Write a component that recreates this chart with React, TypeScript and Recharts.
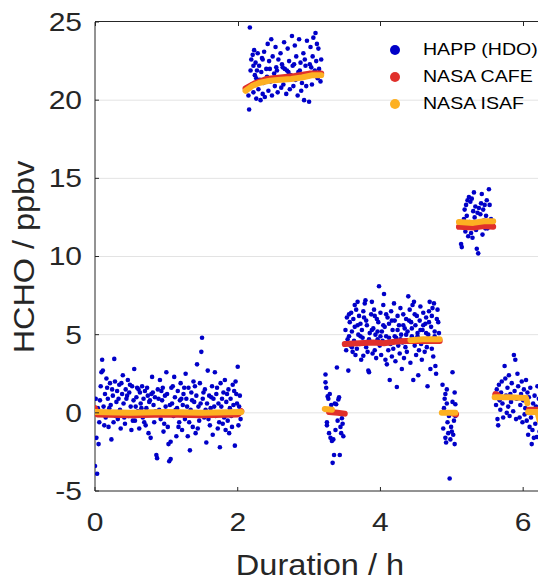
import React from "react";
import { ScatterChart, Scatter, XAxis, YAxis, CartesianGrid } from "recharts";

const BLUE = "#0000c8";
const RED = "#e0302b";
const ORANGE = "#fdb022";
const AXIS = "#262626";
const FONT = '"Liberation Sans", Arial, Helvetica, sans-serif';

const xTicks = [0, 2, 4, 6];
const yTicks = [-5, 0, 5, 10, 15, 20, 25];
const gridValues = [0, 5, 10, 15, 20];
const X_DOMAIN: [number, number] = [0, 6.32];
const Y_DOMAIN: [number, number] = [-5, 25];

// chart box geometry (same numbers the chart margins / axis sizes produce)
const W = 538;
const H = 573;
const PLOT_L = 87;
const PLOT_T = 14;
const PLOT_W = W - PLOT_L;
const PLOT_H = H - 90 - PLOT_T;

type Pt = [number, number];

// HAPP (HDO) retrievals, one list per leg of the flight
const happLeg1: Pt[] = [
  [0.0, -3.4], [0.02, -1.6], [0.03, -3.9], [0.04, 0.3], [0.05, -2.0], [0.06, -0.6], [0.07, 0.8], [0.09, 2.6],
  [0.1, 3.4], [0.11, 2.7], [0.12, 0.4], [0.14, 1.2], [0.15, -0.3], [0.17, 1.6], [0.18, 0.9], [0.19, -0.9],
  [0.21, 1.9], [0.22, 0.5], [0.23, -1.7], [0.25, 1.1], [0.26, -0.6], [0.27, 3.45], [0.28, 2.0], [0.3, 0.7],
  [0.31, 1.4], [0.32, -0.4], [0.34, 1.8], [0.35, 0.2], [0.36, -1.0], [0.38, 1.2], [0.39, 2.4], [0.4, 0.6],
  [0.42, -0.7], [0.43, 1.5], [0.44, 0.9], [0.46, 2.1], [0.47, -0.2], [0.48, 1.3], [0.5, 0.4], [0.51, -1.1],
  [0.52, 1.7], [0.54, 0.8], [0.55, 2.8], [0.56, -0.5], [0.58, 1.0], [0.59, 1.6], [0.6, 0.1], [0.62, -1.0],
  [0.63, 1.3], [0.64, 0.6], [0.66, 1.7], [0.67, -0.3], [0.68, 0.9], [0.7, 1.4], [0.71, -0.8], [0.72, 0.3],
  [0.74, 1.1], [0.75, -1.3], [0.76, 0.7], [0.78, -1.6], [0.79, 1.2], [0.8, 2.3], [0.82, 0.5], [0.83, -0.6],
  [0.84, 1.0], [0.86, -2.7], [0.87, -2.9], [0.88, 1.5], [0.9, 0.2], [0.91, 2.1], [0.92, -0.4], [0.94, 0.8],
  [0.95, 1.6], [0.96, -1.2], [0.98, 1.1], [0.99, 0.4], [1.0, 2.6], [1.02, -0.9], [1.03, -2.0], [1.04, -3.1],
  [1.06, -2.95], [1.06, -1.85], [1.07, 1.6], [1.08, 0.6], [1.1, -0.2], [1.11, 2.3], [1.12, 1.0], [1.14, -1.5],
  [1.15, 0.3], [1.16, 1.4], [1.18, -0.6], [1.19, 0.8], [1.2, 1.9], [1.22, -1.1], [1.23, 0.5], [1.24, 1.2],
  [1.26, -0.4], [1.27, 2.5], [1.28, 0.9], [1.3, -1.5], [1.31, 1.6], [1.33, -2.4], [1.34, 0.2], [1.35, 1.3],
  [1.37, -0.9], [1.38, 2.0], [1.39, 0.7], [1.41, -1.3], [1.42, 1.1], [1.43, 3.1], [1.45, 0.4], [1.46, -0.5],
  [1.47, 1.9], [1.49, 3.9], [1.5, 4.8], [1.51, 0.9], [1.53, -0.3], [1.54, 1.5], [1.56, -1.9], [1.57, 0.6],
  [1.58, 2.7], [1.6, 1.1], [1.61, -0.8], [1.62, 0.3], [1.64, 1.7], [1.65, -1.4], [1.66, 0.9], [1.68, 2.6],
  [1.69, -0.2], [1.7, 1.2], [1.72, -1.0], [1.73, 0.6], [1.75, -2.2], [1.76, 1.9], [1.77, 0.4], [1.79, -0.7],
  [1.8, 1.3], [1.82, 2.1], [1.83, -1.1], [1.84, 0.7], [1.86, -0.5], [1.87, 1.5], [1.88, -1.3], [1.9, 0.9],
  [1.91, -0.2], [1.93, 1.8], [1.94, 0.5], [1.96, -2.1], [1.97, 2.0], [1.98, 1.2], [2.0, 2.95], [2.01, -0.8],
  [2.02, 0.4], [2.03, 1.1],
  [0.01, 0.9], [0.08, 1.7], [0.13, -0.8], [0.16, 2.2], [0.2, 0.3], [0.24, 1.5], [0.29, -0.2], [0.33, 0.9],
  [0.37, 1.9], [0.41, -0.3], [0.45, 1.1], [0.49, 1.8], [0.53, -0.5], [0.57, 0.4], [0.61, 1.5], [0.65, 0.3],
  [0.69, -0.6], [0.73, 1.6], [0.77, 0.8], [0.81, 1.3], [0.85, 0.1], [0.89, 0.9], [0.93, 1.4], [0.97, -0.7],
  [1.01, 1.2], [1.05, 0.5], [1.09, 1.7], [1.13, 0.2], [1.17, -0.9], [1.21, 0.9], [1.25, 1.6], [1.29, 0.4],
  [1.32, -0.6], [1.36, 0.8], [1.4, 1.7], [1.44, -1.0], [1.48, 0.6], [1.52, 1.3], [1.55, 0.2], [1.59, -0.4],
  [1.63, 1.0], [1.67, 0.4], [1.71, 1.6], [1.74, -0.6], [1.78, 0.9], [1.81, -0.3], [1.85, 1.2], [1.89, 0.3],
  [1.92, -0.9], [1.95, 1.4], [1.99, 0.6], [2.04, -0.4],
];

const happLeg2: Pt[] = [
  [2.17, 24.65], [2.16, 19.4], [2.15, 20.3], [2.19, 22.6], [2.2, 21.0], [2.21, 22.9], [2.22, 20.5], [2.23, 23.2],
  [2.24, 21.6], [2.25, 22.4], [2.26, 20.1], [2.27, 21.9], [2.28, 23.0], [2.29, 20.7], [2.3, 22.2], [2.31, 21.3],
  [2.32, 20.0], [2.33, 21.8], [2.34, 22.7], [2.35, 20.4], [2.36, 21.1], [2.37, 23.1], [2.38, 20.2], [2.4, 22.0],
  [2.41, 21.5], [2.42, 23.6], [2.43, 20.6], [2.44, 22.5], [2.46, 21.2], [2.47, 23.9], [2.48, 20.3], [2.49, 22.8],
  [2.51, 21.7], [2.52, 20.9], [2.53, 23.4], [2.54, 22.1], [2.56, 20.5], [2.57, 22.6], [2.58, 21.4], [2.6, 23.0],
  [2.61, 20.8], [2.62, 22.3], [2.64, 21.0], [2.65, 23.7], [2.66, 22.0], [2.68, 20.4], [2.69, 21.9], [2.7, 23.3],
  [2.72, 22.5], [2.73, 20.7], [2.74, 21.6], [2.76, 24.1], [2.77, 22.2], [2.78, 20.9], [2.8, 23.5], [2.81, 21.3],
  [2.82, 22.8], [2.84, 20.3], [2.85, 21.8], [2.86, 23.9], [2.88, 22.4], [2.89, 20.6], [2.9, 21.1], [2.92, 23.0],
  [2.93, 20.0], [2.94, 22.6], [2.96, 20.9], [2.97, 23.8], [2.98, 21.5], [3.0, 19.9], [3.01, 22.3], [3.02, 23.4],
  [3.04, 21.0], [3.05, 22.8], [3.06, 24.0], [3.08, 21.9], [3.09, 24.3], [3.1, 22.5], [3.12, 21.4], [3.13, 23.3],
  [3.14, 22.0], [3.16, 21.2], [3.17, 22.6],
  [2.18, 21.9], [2.22, 22.2], [2.26, 21.4], [2.35, 22.6], [2.45, 22.0], [2.55, 21.9], [2.63, 22.1], [2.71, 21.8],
  [2.79, 22.3], [2.87, 21.9], [2.95, 22.2], [3.03, 22.1], [3.11, 23.6],
];

const happLeg3: Pt[] = [
  [3.23, 2.45], [3.23, 1.95], [3.24, 1.6], [3.25, -0.6], [3.25, -0.8], [3.26, 1.05], [3.27, 0.9], [3.28, -1.3],
  [3.29, 1.2], [3.3, -1.6], [3.31, 0.5], [3.32, -1.8], [3.33, -3.2], [3.34, -1.7], [3.35, -2.7], [3.36, 0.6],
  [3.37, -1.1], [3.38, 0.55], [3.39, 2.9], [3.4, -0.5], [3.41, 0.85], [3.42, 1.0], [3.43, -2.7], [3.44, -0.9],
  [3.45, -1.3], [3.46, -0.35], [3.47, -0.7], [3.48, -1.5],
];

const happLeg4: Pt[] = [
  [3.51, 5.3], [3.52, 4.0], [3.53, 6.1], [3.54, 4.7],
  [3.55, 2.7], [3.56, 4.9], [3.57, 5.8], [3.58, 4.3], [3.59, 6.4], [3.6, 5.2], [3.61, 3.9], [3.62, 6.0],
  [3.63, 4.6], [3.64, 5.5], [3.65, 3.7], [3.66, 6.6], [3.67, 4.1], [3.68, 7.1], [3.69, 5.0], [3.7, 6.2],
  [3.71, 4.4], [3.72, 5.7], [3.73, 3.4], [3.74, 5.3], [3.75, 4.8], [3.76, 3.65], [3.77, 6.1], [3.78, 7.0],
  [3.79, 7.2], [3.8, 4.2], [3.81, 5.6], [3.82, 3.9], [3.83, 2.7], [3.84, 2.6], [3.85, 5.1], [3.86, 4.5],
  [3.87, 6.3], [3.88, 7.1], [3.89, 3.8], [3.9, 5.4], [3.91, 6.6], [3.92, 4.0], [3.93, 5.0], [3.94, 3.5],
  [3.95, 6.0], [3.96, 4.7], [3.97, 5.8], [3.98, 8.1], [3.99, 4.3], [4.0, 6.4], [4.01, 3.7], [4.02, 5.2],
  [4.03, 4.6], [4.04, 6.9], [4.05, 7.6], [4.06, 5.5], [4.07, 3.4], [4.08, 4.9], [4.09, 3.1], [4.1, 6.1],
  [4.11, 4.0], [4.12, 5.7], [4.13, 2.1], [4.14, 4.4], [4.15, 6.5], [4.16, 3.6], [4.17, 5.3], [4.18, 4.1],
  [4.19, 7.0], [4.2, 5.9], [4.21, 3.3], [4.22, 4.8], [4.23, 1.65], [4.24, 6.2], [4.25, 4.3], [4.26, 5.6],
  [4.27, 3.8], [4.28, 6.7], [4.29, 5.0], [4.3, 2.8], [4.31, 4.5], [4.32, 6.3], [4.33, 3.5], [4.34, 5.4],
  [4.35, 4.2], [4.36, 6.0], [4.37, 3.9], [4.38, 5.2], [4.39, 7.45], [4.4, 4.6], [4.41, 6.6], [4.42, 3.2],
  [4.43, 5.8], [4.44, 4.9], [4.45, 6.9], [4.46, 2.1], [4.47, 7.1], [4.48, 4.3], [4.49, 5.6], [4.5, 3.7],
  [4.51, 6.2], [4.52, 5.1], [4.53, 2.4], [4.54, 4.0], [4.55, 5.9], [4.56, 6.8], [4.57, 4.4], [4.58, 3.4],
  [4.59, 5.3], [4.6, 6.4], [4.61, 4.7], [4.62, 3.9], [4.63, 5.7], [4.64, 6.1], [4.65, 4.2], [4.66, 1.7],
  [4.67, 5.0], [4.68, 6.5], [4.69, 7.1], [4.7, 2.8], [4.71, 5.5], [4.72, 4.1], [4.73, 6.7], [4.74, 3.6],
  [4.75, 7.0], [4.76, 5.2], [4.77, 3.0], [4.78, 2.5], [4.79, 6.0], [4.8, 4.6], [4.81, 5.8], [4.82, 5.1],
  [3.56, 6.3], [3.6, 4.2], [3.64, 6.9], [3.68, 5.6], [3.72, 4.9], [3.76, 6.5], [3.8, 5.9], [3.84, 4.7],
  [3.88, 5.3], [3.92, 6.2], [3.96, 5.2], [4.0, 4.9], [4.04, 5.6], [4.08, 6.3], [4.12, 4.8], [4.16, 5.9],
  [4.2, 4.9], [4.24, 5.3], [4.28, 4.7], [4.32, 5.6], [4.36, 5.0], [4.4, 5.9], [4.44, 5.4], [4.48, 6.3],
  [4.52, 4.9], [4.56, 5.3], [4.6, 5.6], [4.64, 5.1], [4.68, 5.8], [4.72, 6.2], [4.76, 4.9], [4.8, 6.6],
];

const happLeg5: Pt[] = [
  [4.87, 1.8], [4.88, -1.0], [4.89, 0.3], [4.9, 0.9], [4.91, 1.2], [4.91, -1.6], [4.92, -1.9], [4.93, 0.6],
  [4.93, 1.5], [4.94, -0.6], [4.95, -1.3], [4.96, -0.2], [4.97, 0.0], [4.97, -4.2], [4.98, -1.7], [4.99, -0.9],
  [5.0, -1.2], [5.01, 0.7], [5.01, 2.6], [5.02, -1.4], [5.03, -0.5], [5.04, 1.3], [5.04, -2.0], [5.05, -0.2],
  [5.05, 0.55],
];

const happLeg6: Pt[] = [
  [5.13, 10.8], [5.14, 10.6], [5.16, 11.9], [5.17, 12.4], [5.18, 13.0], [5.19, 11.6], [5.2, 13.3], [5.21, 12.6],
  [5.22, 13.6], [5.23, 11.3], [5.24, 13.8], [5.25, 12.2], [5.26, 13.5], [5.27, 11.5], [5.28, 13.7], [5.29, 11.2],
  [5.3, 12.9], [5.31, 14.1], [5.32, 12.5], [5.33, 13.2], [5.34, 11.7], [5.35, 10.5], [5.36, 12.8], [5.37, 10.2],
  [5.38, 13.1], [5.39, 11.9], [5.4, 12.7], [5.41, 13.4], [5.42, 14.0], [5.43, 11.4], [5.44, 13.0], [5.45, 12.3],
  [5.46, 13.3], [5.47, 11.8], [5.48, 12.6], [5.49, 13.6], [5.5, 11.8], [5.52, 14.3], [5.53, 13.3], [5.55, 12.4],
];

const happLeg7: Pt[] = [
  [5.62, 0.5], [5.63, 1.5], [5.64, -0.4], [5.64, 1.0], [5.65, -0.8], [5.66, 1.8], [5.67, 0.8], [5.68, 0.2],
  [5.69, 1.3], [5.7, 2.0], [5.71, 0.6], [5.72, -0.3], [5.74, 3.0], [5.75, 2.2], [5.76, 1.1], [5.77, 0.0],
  [5.78, 1.6], [5.79, 0.4], [5.8, 2.4], [5.81, -0.2], [5.82, 1.2], [5.83, 0.7], [5.84, 1.9], [5.87, 3.7],
  [5.86, 0.1], [5.89, 3.4], [5.88, 1.4], [5.9, -0.4], [5.92, 2.5], [5.91, 0.9], [5.93, 1.7], [5.95, -0.3],
  [5.96, 0.5], [5.97, 1.2], [5.98, 2.0], [5.99, -0.6], [6.0, 0.8], [6.01, 1.5], [6.02, -0.1], [6.04, 2.1],
  [6.03, 0.3], [6.05, -0.5], [6.06, 1.3], [6.07, 0.0], [6.07, -1.4], [6.08, 1.0], [6.09, -0.9], [6.1, 1.6],
  [6.11, -0.3], [6.12, -2.0], [6.13, -1.1], [6.14, 0.6], [6.15, -1.6], [6.16, 1.1], [6.17, -0.7], [6.18, 0.4],
  [6.19, -1.55], [6.2, 1.7], [6.21, -0.2], [6.22, 0.9], [6.23, -1.2], [6.24, 0.2], [6.25, -2.1], [6.26, 1.3],
  [6.27, 1.6], [6.28, -0.5], [6.29, 0.7], [6.3, -1.0],
];

// NASA CAFE (red) legs
const cafeLeg1: Pt[] = [[0.0, 0.3], [0.03, -0.1], [0.5, -0.15], [1.0, -0.1], [1.5, -0.15], [2.0, -0.1], [2.05, 0.1]];
const cafeLeg2: Pt[] = [[2.11, 20.75], [2.25, 21.1], [2.4, 21.35], [2.6, 21.45], [2.8, 21.55], [3.0, 21.7], [3.17, 21.7]];
const cafeLeg3: Pt[] = [[3.28, 0.05], [3.4, 0.0], [3.5, -0.05]];
const cafeLeg4: Pt[] = [[3.5, 4.4], [3.7, 4.45], [3.9, 4.5], [4.05, 4.45], [4.2, 4.55], [4.35, 4.6], [4.55, 4.6], [4.83, 4.6]];
const cafeLeg5: Pt[] = [[5.02, -0.05], [5.06, -0.1]];
const cafeLeg6: Pt[] = [[5.1, 11.9], [5.3, 11.85], [5.45, 11.95], [5.58, 11.9]];
const cafeLeg7: Pt[] = [[5.61, 1.2], [5.64, 1.15]];
const cafeLeg8: Pt[] = [[6.08, 0.2], [6.2, 0.2]];

// NASA ISAF (orange) legs
const isafLeg1: Pt[] = [[0.0, 0.05], [0.5, 0.0], [1.0, 0.05], [1.5, 0.0], [2.05, 0.05]];
const isafLeg2: Pt[] = [[2.11, 20.6], [2.2, 20.9], [2.3, 21.1], [2.45, 21.25], [2.6, 21.3], [2.75, 21.35], [2.9, 21.45], [3.05, 21.6], [3.17, 21.6]];
const isafLeg3: Pt[] = [[3.22, 0.25], [3.32, 0.2]];
const isafLeg4: Pt[] = [[4.42, 4.65], [4.6, 4.7], [4.83, 4.7]];
const isafLeg5: Pt[] = [[4.86, 0.0], [5.05, 0.0]];
const isafLeg6: Pt[] = [[5.1, 12.2], [5.3, 12.15], [5.45, 12.25], [5.58, 12.25]];
const isafLeg7: Pt[] = [[5.6, 1.0], [5.8, 1.0], [6.04, 0.95], [6.06, 0.6]];
const isafLeg8: Pt[] = [[6.07, 0.05], [6.2, 0.05], [6.23, -0.5], [6.25, 0.05], [6.32, 0.05]];

const happLegs = [happLeg1, happLeg2, happLeg3, happLeg4, happLeg5, happLeg6, happLeg7];
const cafeLegs = [cafeLeg1, cafeLeg2, cafeLeg3, cafeLeg4, cafeLeg5, cafeLeg6, cafeLeg7, cafeLeg8];
const isafLegs = [isafLeg1, isafLeg2, isafLeg3, isafLeg4, isafLeg5, isafLeg6, isafLeg7, isafLeg8];

const legendItems = [
  { name: "HAPP (HDO)", color: BLUE },
  { name: "NASA CAFE", color: RED },
  { name: "NASA ISAF", color: ORANGE },
];

const toXY = (pts: Pt[]) => pts.map(([x, y]) => ({ x, y }));

const blueDot = (p: any) => <circle cx={p.cx} cy={p.cy} r={2.3} fill={BLUE} />;
const noDot = () => <g />;

// bottom axis: label sits 22px below the axis line, tick mark points up into the plot
function XTick(props: any) {
  const { x, y, payload } = props;
  return (
    <g>
      <line x1={x} x2={x} y1={y - 22} y2={y - 26} stroke={AXIS} strokeWidth={1} />
      <g transform={`translate(${x},${y}) scale(1.2,1)`}>
        <text x={0} y={0} dy="0.71em" textAnchor="middle" fontSize={25} fill={AXIS} fontFamily={FONT}>
          {payload.value}
        </text>
      </g>
    </g>
  );
}

// left axis: label ends 13px left of the axis line, tick mark points right
function YTick(props: any) {
  const { x, y, payload } = props;
  return (
    <g>
      <line x1={x + 13} x2={x + 17} y1={y} y2={y} stroke={AXIS} strokeWidth={1} />
      <g transform={`translate(${x},${y}) scale(1.2,1)`}>
        <text x={0} y={0} dy="0.355em" textAnchor="end" fontSize={25} fill={AXIS} fontFamily={FONT}>
          {payload.value}
        </text>
      </g>
    </g>
  );
}

// top and right edges of the MATLAB-style box, with their inward ticks
function BoxEdges() {
  const sx = (v: number) => PLOT_L + ((v - X_DOMAIN[0]) / (X_DOMAIN[1] - X_DOMAIN[0])) * PLOT_W;
  const sy = (v: number) => PLOT_T + PLOT_H - ((v - Y_DOMAIN[0]) / (Y_DOMAIN[1] - Y_DOMAIN[0])) * PLOT_H;
  const rule = { position: "absolute" as const, background: AXIS };
  return (
    <div style={{ position: "absolute", left: 0, top: 0, width: W, height: H, pointerEvents: "none", zIndex: 5 }}>
      <div
        style={{
          position: "absolute",
          left: PLOT_L,
          top: PLOT_T - 1,
          width: PLOT_W,
          height: 0,
          borderTop: `1.5px solid ${AXIS}`,
        }}
      />
      {xTicks.map((t) => (
        <div key={`tt${t}`} style={{ ...rule, left: Math.round(sx(t)), top: PLOT_T, width: 1, height: 4 }} />
      ))}
      {yTicks.map((t) => (
        <div key={`rt${t}`} style={{ ...rule, left: W - 4, top: Math.round(sy(t)), width: 4, height: 1 }} />
      ))}
    </div>
  );
}

export default function App() {
  return (
    <div style={{ position: "relative", width: W, height: H, overflow: "hidden", fontFamily: FONT }}>
      <ScatterChart width={W} height={H} margin={{ top: PLOT_T, right: 0, bottom: 0, left: 0 }}>
        <CartesianGrid vertical={false} stroke="#e3e3e3" horizontalValues={gridValues} />
        <XAxis
          type="number"
          dataKey="x"
          domain={X_DOMAIN}
          ticks={xTicks}
          allowDataOverflow
          height={90}
          stroke={AXIS}
          tickLine={false}
          tickSize={-4}
          tickMargin={26}
          tick={<XTick />}
        />
        <YAxis
          type="number"
          dataKey="y"
          domain={Y_DOMAIN}
          ticks={yTicks}
          allowDataOverflow
          width={PLOT_L}
          stroke={AXIS}
          tickLine={false}
          tickSize={-4}
          tickMargin={17}
          tick={<YTick />}
        />
        {happLegs.map((leg, i) => (
          <Scatter key={`happ${i}`} data={toXY(leg)} shape={blueDot} isAnimationActive={false} />
        ))}
        {cafeLegs.map((leg, i) => (
          <Scatter
            key={`cafe${i}`}
            data={toXY(leg)}
            shape={noDot}
            line={{ stroke: RED, strokeWidth: 6, strokeLinecap: "round", strokeLinejoin: "round" }}
            lineType="joint"
            isAnimationActive={false}
          />
        ))}
        {isafLegs.map((leg, i) => (
          <Scatter
            key={`isaf${i}`}
            data={toXY(leg)}
            shape={noDot}
            line={{ stroke: ORANGE, strokeWidth: 6, strokeLinecap: "round", strokeLinejoin: "round" }}
            lineType="joint"
            isAnimationActive={false}
          />
        ))}
      </ScatterChart>

      <BoxEdges />

      {/* legend, no box, like the original */}
      <div style={{ position: "absolute", left: 382, top: 28, pointerEvents: "none", zIndex: 6 }}>
        {legendItems.map((it) => (
          <div key={it.name} style={{ display: "flex", alignItems: "center", height: 27 }}>
            <span style={{ width: 10, height: 10, borderRadius: "50%", background: it.color, marginRight: 23 }} />
            <span
              style={{
                fontSize: 17,
                color: "#000",
                whiteSpace: "nowrap",
                display: "inline-block",
                transform: "scaleX(1.15)",
                transformOrigin: "left center",
              }}
            >
              {it.name}
            </span>
          </div>
        ))}
      </div>

      <div
        style={{
          position: "absolute",
          left: 312,
          top: 556.5,
          fontSize: 30,
          lineHeight: "30px",
          color: AXIS,
          whiteSpace: "nowrap",
          transform: "translate(-50%, -50%) scaleX(1.085)",
        }}
      >
        Duration / h
      </div>
      <div
        style={{
          position: "absolute",
          left: 15.6,
          top: 248.7,
          fontSize: 30,
          lineHeight: "30px",
          color: AXIS,
          whiteSpace: "nowrap",
          transform: "translate(-50%, -50%) rotate(-90deg) scaleX(1.08)",
        }}
      >
        HCHO / ppbv
      </div>
    </div>
  );
}
